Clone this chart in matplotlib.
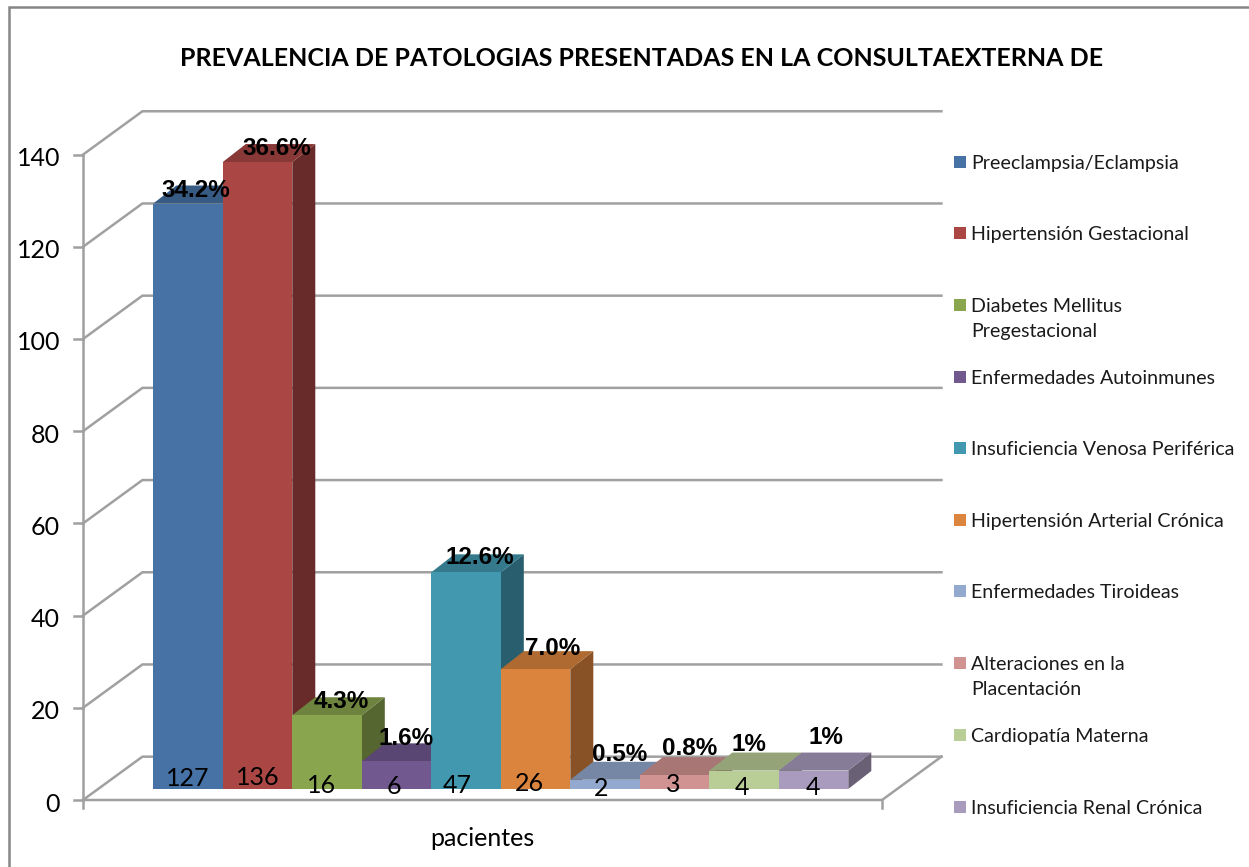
import matplotlib
matplotlib.use('Agg')
import matplotlib.pyplot as plt
from matplotlib.patches import Polygon, Rectangle
from matplotlib.transforms import Affine2D

# datos
categorias = ['Preeclampsia/Eclampsia', 'Hipertensión Gestacional', 'Diabetes Mellitus\nPregestacional',
              'Enfermedades Autoinmunes', 'Insuficiencia Venosa Periférica', 'Hipertensión Arterial Crónica',
              'Enfermedades Tiroideas', 'Alteraciones en la\nPlacentación', 'Cardiopatía Materna',
              'Insuficiencia Renal Crónica']
pacientes = [127, 136, 16, 6, 47, 26, 2, 3, 4, 4]
porcentajes = ['34.2%', '36.6%', '4.3%', '1.6%', '12.6%', '7.0%', '0.5%', '0.8%', '1%', '1%']
y_ticks = [0, 20, 40, 60, 80, 100, 120, 140]
titulo = 'PREVALENCIA DE PATOLOGIAS PRESENTADAS EN LA CONSULTAEXTERNA DE'

colores = ['#4672A5', '#AA4643', '#89A54E', '#71588F', '#4198AF', '#DB843D',
           '#93A9CF', '#D19392', '#B9CD96', '#A99BBD']

# desplazamientos en pixeles de las etiquetas, movidas a mano en el original
off_n = [(0, 10), (0, 11), (-6, 3), (-3, 2), (-9, 3), (-6, 5), (-4, 0), (-1, 4), (-2, 1), (-1, 1)]
off_p = [(8, 13), (19, 14), (14, 14), (10, 23), (14, 15), (17, 21), (15, 25), (15, 27), (5, 26), (12, 33)]
legend_y = [162, 233, 305, 377, 448, 520, 591, 663, 735, 807]


def tono(color, f):
    r, g, b = matplotlib.colors.to_rgb(color)
    return (r * f, g * f, b * f)


W, H = 1249, 867
fig = plt.figure(figsize=(W / 100, H / 100), dpi=100)
ax = fig.add_axes([0, 0, 1, 1])
# una unidad x = una barra (69.5 px), una unidad y = un paciente (4.61 px)
ax.set_xlim(-153.3 / 69.5, (W - 153.3) / 69.5)
ax.set_ylim(-67 / 4.61, 800 / 4.61)
ax.axis('off')
pix = Affine2D().scale(1, -1).translate(0, H)  # pixeles de la imagen, y hacia abajo

gris = '#A0A0A0'
lw = 1.8
x_front, x_end = -1.0115, 10.485  # piso frente
dx_wall, dy_wall = 0.855, 9.4  # profundidad de la pared
dx_bar, dy_bar = 0.331, 3.9  # profundidad de barra
y_base = 2.39  # base de las barras

# pared y lineas de la cuadricula
for v in y_ticks:
    ax.plot([x_front, x_front + dx_wall, x_end + dx_wall], [v, v + dy_wall, v + dy_wall],
            color=gris, lw=lw, solid_joinstyle='miter', zorder=1)
    ax.plot([x_front - 0.13, x_front], [v, v], color=gris, lw=lw, zorder=1)
    ax.annotate(str(v), (x_front, v), xytext=(-23, -4), textcoords='offset pixels', ha='right', va='center',
                fontsize=18, family='Lato', color='black')
ax.plot([x_front, x_front], [-1.8, 140], color=gris, lw=lw, zorder=1)
ax.plot([x_front, x_end, x_end + dx_wall], [0, 0, dy_wall], color=gris, lw=lw, zorder=1)
ax.plot([x_end, x_end], [-1.8, 0], color=gris, lw=lw, zorder=1)

# barras en pseudo 3D
for i, v in enumerate(pacientes):
    c = colores[i]
    top = y_base + v
    ax.add_patch(Polygon([(i + 1, y_base), (i + 1 + dx_bar, y_base + dy_bar), (i + 1 + dx_bar, top + dy_bar), (i + 1, top)],
                         closed=True, fc=tono(c, 0.62), ec='none', zorder=2 + i))
    ax.add_patch(Polygon([(i, top), (i + dx_bar, top + dy_bar), (i + 1 + dx_bar, top + dy_bar), (i + 1, top)],
                         closed=True, fc=tono(c, 0.8), ec='none', zorder=2 + i))
    ax.add_patch(Rectangle((i, y_base), 1, v, fc=c, ec='none', zorder=2 + i))

for i, v in enumerate(pacientes):
    ax.annotate(str(v), (i + 0.5, y_base), xytext=off_n[i], textcoords='offset pixels', ha='center', va='center',
                fontsize=18, family='Lato', color='black', zorder=20)
    ax.annotate(porcentajes[i], (i + 0.5, y_base + v), xytext=off_p[i], textcoords='offset pixels', ha='center',
                va='center', fontsize=17.5, family='Liberation Sans', weight='bold', color='black', zorder=20)

# leyenda
for nombre, c, y in zip(categorias, colores, legend_y):
    ax.add_patch(Rectangle((954, y - 6), 12, 12, fc=c, ec='none', transform=pix))
    ax.text(971, y - 7, nombre, transform=pix, ha='left', va='top', fontsize=14.1, family='Lato',
            color='#1a1a1a', linespacing=1.6)

ax.text(642, 58, titulo, transform=pix, ha='center', va='center', fontsize=18, family='Lato', weight='bold')
ax.text(482, 838, 'pacientes', transform=pix, ha='center', va='center', fontsize=18, family='Lato')

# marco del grafico
ax.plot([9, 9, W], [H, 6.5, 6.5], transform=pix, color='#868686', lw=1.8, solid_joinstyle='miter')

fig.savefig('out.png', dpi=100)
